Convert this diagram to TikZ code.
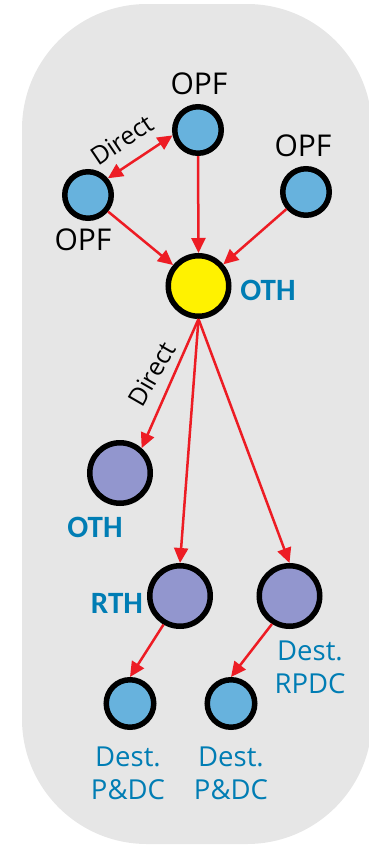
\documentclass[tikz,border=0pt]{standalone}
\usepackage{fontspec}
\setmainfont{Open Sans}
\newfontfamily\carlito{Carlito}
\usetikzlibrary{arrows.meta}
\definecolor{bg}{RGB}{230,230,230}
\definecolor{opf}{RGB}{103,178,221}
\definecolor{pur}{RGB}{146,150,206}
\definecolor{lab}{RGB}{0,125,180}
\definecolor{arr}{RGB}{237,28,36}
\begin{document}
\begin{tikzpicture}[x=1pt,y=-1pt,
 small/.style={circle,draw=black,line width=5.5pt,fill=opf,minimum size=46.5pt,inner sep=0pt},
 big/.style={circle,draw=black,line width=5.5pt,fill=pur,minimum size=60.5pt,inner sep=0pt},
 lbl/.style={font=\fontsize{30}{30}\selectfont,text=black,inner sep=0pt},
 dir/.style={font=\fontsize{25}{25}\selectfont,text=black,inner sep=0pt},
 blab/.style={font=\carlito\bfseries\fontsize{31}{31}\selectfont,text=lab,inner sep=0pt},
 dlab/.style={font=\fontsize{27.5}{33}\selectfont,text=lab,align=center,inner sep=0pt},
 conn/.style={draw=arr,line width=2.5pt,-{Triangle[length=15pt,width=14pt]}},
 dconn/.style={draw=arr,line width=2.5pt,{Triangle[length=15pt,width=14pt]}-{Triangle[length=15pt,width=14pt]}},
]
\useasboundingbox (0,0) rectangle (368,846);
\fill[bg,rounded corners=125pt] (22,4) rectangle (372,844);

% nodes
\node[small] (opft) at (198,130) {};
\node[small] (opfl) at (88,195) {};
\node[small] (opfr) at (306,192) {};
\node[circle,draw=black,line width=5.5pt,fill=yellow,minimum size=60.5pt,inner sep=0pt] (oth) at (198.5,286) {};
\node[big] (oth2) at (120,473) {};
\node[big] (rth) at (180,596) {};
\node[big] (rpdc) at (289.5,596) {};
\node[small,minimum size=47.5pt] (pdc1) at (130,703.5) {};
\node[small,minimum size=47.5pt] (pdc2) at (231,703.5) {};

% labels
\node[lbl] (lt) at (199,84) {OPF};
\node[lbl] (lr) at (303,146) {OPF};
\node[lbl] (ll) at (83,240) {OPF};
\node[blab] (loth) at (268,290) {OTH};
\node[blab] (loth2) at (95,527) {OTH};
\node[blab] (lrth) at (117,603) {RTH};
\node[dlab] (lrpdc) at (310,667) {Dest.\\RPDC};
\node[dlab] (lpdc1) at (128,773) {Dest.\\P\&DC};
\node[dlab] (lpdc2) at (231,773) {Dest.\\P\&DC};
\node[dir,rotate=34] (d1) at (122,140) {Direct};
\node[dir,rotate=60] (d2) at (152,374) {Direct};

% connectors
\draw[dconn] (opfl.40) -- (opft.192);
\draw[conn] (opft.south) -- (oth.north);
\draw[conn] (opfl) -- (oth);
\draw[conn] (opfr) -- (oth);
\draw[conn] (oth.south) -- (oth2.49);
\draw[conn] (oth.south) -- (rth.north);
\draw[conn] (oth.south) -- (rpdc.north);
\draw[conn] (rth.240) -- (pdc1.north);
\draw[conn] (rpdc.238) -- (pdc2.north);
\end{tikzpicture}
\end{document}
